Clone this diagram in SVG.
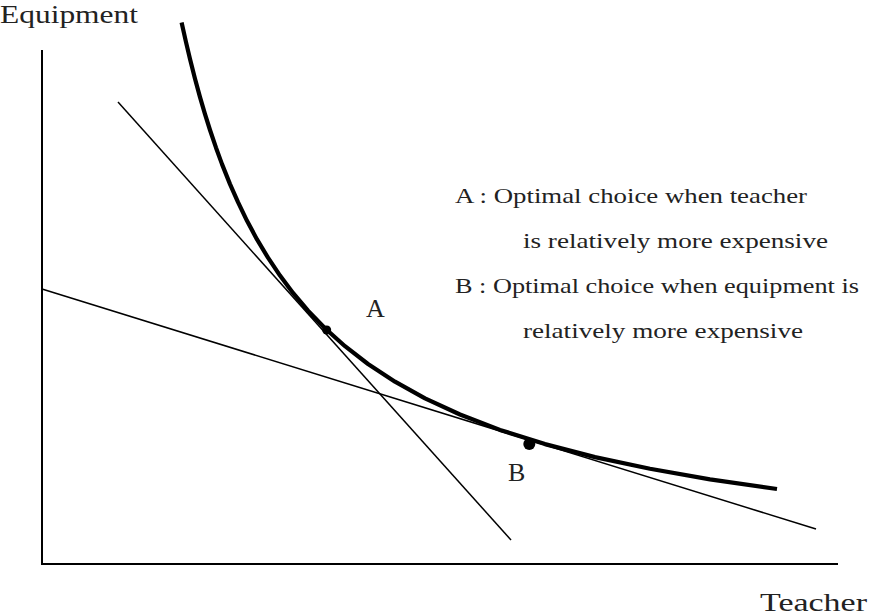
<svg xmlns="http://www.w3.org/2000/svg" width="872" height="616" viewBox="0 0 872 616">
<style>
.t{font-family:"Liberation Serif","Times New Roman",serif;fill:#222;}
.axis{stroke:#000;stroke-width:2;fill:none;}
.ln{stroke:#000;stroke-width:1.5;fill:none;}
.crv{stroke:#000;stroke-width:4.2;fill:none;stroke-linejoin:round;}
</style>
<rect width="872" height="616" fill="#fff"/>
<g id="axes">
<path class="axis" d="M42,50 V564 H838"/>
<text class="t" x="0" y="23" font-size="25" textLength="138" lengthAdjust="spacingAndGlyphs">Equipment</text>
<text class="t" x="760" y="611" font-size="26" textLength="107" lengthAdjust="spacingAndGlyphs">Teacher</text>
</g>
<g id="connectors">
<line class="ln" x1="118" y1="102" x2="511" y2="540"/>
<line class="ln" x1="42" y1="289" x2="816" y2="529"/>
<path class="crv" d="M181.6,22.5 L186,42.1 L190,59.1 L195,78.8 L200,97.1 L205,114.2 L210,130 L216,147.7 L222,164.1 L230,184.1 L238,202.2 L247,220.8 L257,239.4 L268,257.7 L280,275.6 L293,292.9 L308,310.6 L325,328.2 L345,346.2 L368,364 L395,381.7 L425,398.3 L460,414.5 L500,429.9 L545,444.1 L595,457.1 L650,468.8 L710,479.4 L777,489"/>
</g>
<g id="pointA">
<circle cx="326.7" cy="330" r="4.5" fill="#000"/>
<text class="t" x="366" y="317" font-size="26">A</text>
</g>
<g id="pointB">
<circle cx="529.3" cy="444" r="6" fill="#000"/>
<text class="t" x="508" y="481" font-size="26">B</text>
</g>
<g id="legend">
<text class="t" x="455" y="203" font-size="21" textLength="352" lengthAdjust="spacingAndGlyphs">A : Optimal choice when teacher</text>
<text class="t" x="523" y="248" font-size="21" textLength="305" lengthAdjust="spacingAndGlyphs">is relatively more expensive</text>
<text class="t" x="455" y="293" font-size="21" textLength="404" lengthAdjust="spacingAndGlyphs">B : Optimal choice when equipment is</text>
<text class="t" x="523" y="338" font-size="21" textLength="280" lengthAdjust="spacingAndGlyphs">relatively more expensive</text>
</g>
</svg>
